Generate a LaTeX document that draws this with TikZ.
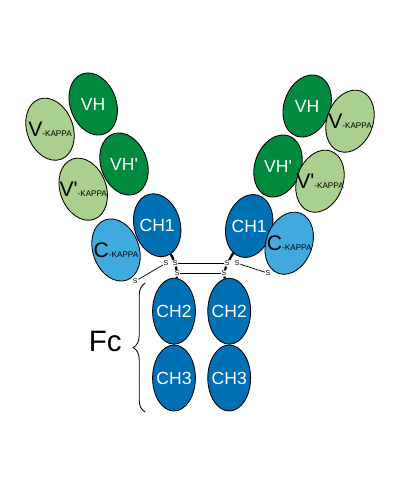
\documentclass[tikz,border=0pt]{standalone}
\usepackage{fontspec}
\setmainfont{Liberation Sans}
\usetikzlibrary{shapes.geometric,decorations.pathreplacing}
\definecolor{vhgreen}{RGB}{0,138,62}
\definecolor{vkgreen}{RGB}{169,208,142}
\definecolor{chblue}{RGB}{0,112,180}
\definecolor{ckblue}{RGB}{64,170,222}
% upright labels inside rotated domains
\newcommand{\dlabel}[2]{\makebox[0pt]{\rotatebox{#1}{#2}}}
\newcommand{\kappalabel}[2]{\makebox[0pt]{\rotatebox{#1}{\fontsize{15}{15}\selectfont #2\fontsize{5.8}{6}\selectfont -KAPPA}}}
\begin{document}
\begin{tikzpicture}[
    every node/.style={font=\fontsize{12.5}{14}\selectfont},
    dom/.style={ellipse, draw, line width=0.6pt, inner sep=0pt, minimum width=1.15cm, minimum height=1.6cm},
    vh/.style={dom, fill=vhgreen, text=white},
    vk/.style={dom, fill=vkgreen},
    ch/.style={dom, fill=chblue, text=white},
    ck/.style={dom, fill=ckblue},
    fc/.style={ch, minimum width=1.07cm, minimum height=1.65cm},
    sulf/.style={font=\fontsize{5}{5}\selectfont, inner sep=0.4pt},
    bond/.style={line width=0.5pt},
    hinge/.style={line width=1.6pt}
]
\useasboundingbox (0, 0) rectangle (10.025, -11.975);

% Left arm
\node[vh, rotate=20] (vhL) at (2.33, -2.60) {\dlabel{-20}{VH}};
\node[vh, rotate=20] (vhpL) at (3.10, -4.10) {\dlabel{-20}{VH\textquotesingle}};
\node[vk, rotate=20] (vkL) at (1.25, -3.23) {\kappalabel{-20}{V}};
\node[vk, rotate=20] (vkpL) at (2.08, -4.73) {\kappalabel{-20}{V\textquotesingle}};
\node[ch, rotate=15] (ch1L) at (3.93, -5.63) {\dlabel{-15}{CH1}};
\node[ck, rotate=20] (ckL) at (2.90, -6.25) {\kappalabel{-20}{C}};

% Right arm
\node[vh, rotate=-20] (vhR) at (7.68, -2.65) {\dlabel{20}{VH}};
\node[vh, rotate=-20] (vhpR) at (6.95, -4.15) {\dlabel{20}{VH\textquotesingle}};
\node[vk, rotate=-20] (vkR) at (8.75, -3.03) {\kappalabel{20}{V}};
\node[vk, rotate=-20] (vkpR) at (8.00, -4.53) {\kappalabel{20}{V\textquotesingle}};
\node[ch, rotate=-15] (ch1R) at (6.23, -5.65) {\dlabel{15}{CH1}};
\node[ck, rotate=-20] (ckR) at (7.23, -6.08) {\kappalabel{20}{C}};

% Fc
\node[fc] (ch2L) at (4.35, -7.78) {\dlabel{0}{CH2}};
\node[fc] (ch3L) at (4.35, -9.45) {\dlabel{0}{CH3}};
\node[fc] (ch2R) at (5.73, -7.78) {\dlabel{0}{CH2}};
\node[fc] (ch3R) at (5.73, -9.45) {\dlabel{0}{CH3}};

% Disulfide bridges
\node[sulf] (sL1) at (4.15, -6.58) {S};
\node[sulf] (sL2) at (4.38, -6.58) {S};
\node[sulf] (sL3) at (4.43, -6.83) {S};
\node[sulf] (sL4) at (3.38, -7.03) {S};
\node[sulf] (sR1) at (5.68, -6.58) {S};
\node[sulf] (sR2) at (5.93, -6.58) {S};
\node[sulf] (sR3) at (5.60, -6.83) {S};
\node[sulf] (sR4) at (6.70, -6.83) {S};
\draw[bond] (sL1) -- (sL4);
\draw[bond] (sR2) -- (sR4);
\draw[bond] (sL2) -- (sR1);
\draw[bond] (sL3) -- (sR3);
\draw[hinge] (ch1L) -- (sL2);
\draw[hinge] (sL2) -- (sL3);
\draw[hinge] (sL3) -- (ch2L);
\draw[hinge] (ch1R) -- (sR1);
\draw[hinge] (sR1) -- (sR3);
\draw[hinge] (sR3) -- (ch2R);

% Brace
\coordinate (fcTop) at (3.63, -7.08);
\coordinate (fcBot) at (3.63, -10.30);
\draw[line width=0.6pt, decorate, decoration={brace, amplitude=0.3cm}] (fcBot) -- (fcTop);
\node[font=\fontsize{21}{24}\selectfont] (fcLabel) at (2.63, -8.53) {Fc};
\end{tikzpicture}
\end{document}
